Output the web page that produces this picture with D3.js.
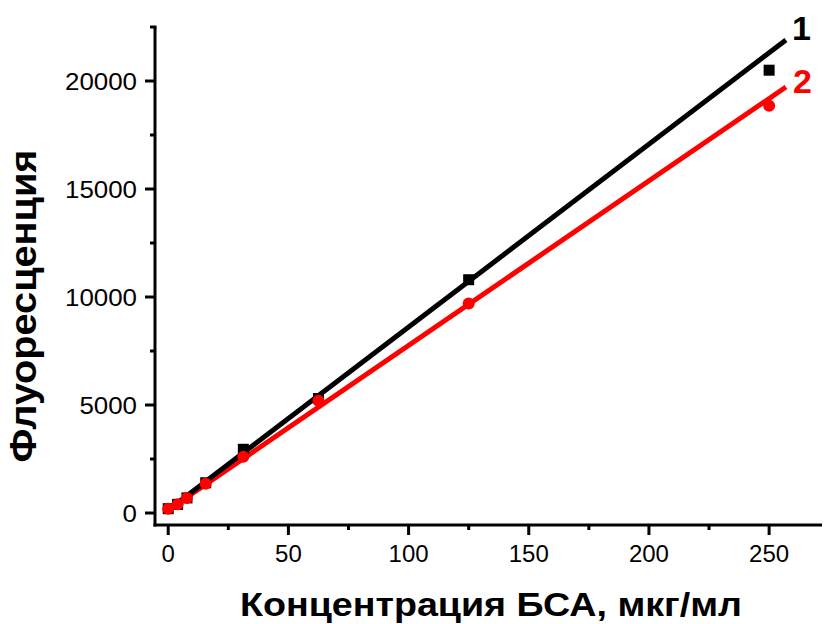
<!doctype html>
<html lang="ru">
<head>
<meta charset="utf-8">
<title>Флуоресценция БСА</title>
<style>
  body { margin: 0; background: #fff; font-family: "Liberation Sans", Arial, sans-serif; }
</style>
</head>
<body>
<script src="https://d3js.org/d3.v7.min.js"></script>
<script>

// BSA concentration, ug/ml
var conc = [0, 3.9, 7.8, 15.6, 31.25, 62.5, 125, 250];
// fluorescence, series 1 (black squares) and 2 (red circles)
var fluo1 = [200, 400, 700, 1400, 2950, 5300, 10800, 20500];
var fluo2 = [200, 400, 700, 1350, 2600, 5200, 9700, 18850];
// linear fit lines, end points
var fitX = [0, 257];
var fit1 = [140, 21900];
var fit2 = [140, 19720];

var xTicks = [0, 50, 100, 150, 200, 250];
var yTicks = [0, 5000, 10000, 15000, 20000];

var W = 824, H = 624;
var svg = d3.select("body").append("svg")
  .attr("width", W)
  .attr("height", H)
  .style("font-family", "'Liberation Sans', Arial, sans-serif");

var x = d3.scaleLinear().domain([-5.5, 272]).range([155, 822]);
var y = d3.scaleLinear().domain([-555, 22500]).range([525, 27]);

// minor ticks halfway between majors
var xMinor = d3.range(25, 275, 50);
var yMinor = d3.range(2500, 22500, 5000);

// x axis
var gx = svg.append("g").attr("transform", "translate(0," + y.range()[0] + ")");
gx.append("line")
  .attr("x1", x.range()[0] - 1.5).attr("x2", x.range()[1])
  .attr("stroke", "#000").attr("stroke-width", 3);
gx.selectAll(".xmaj").data(xTicks).join("line")
  .attr("x1", function (d) { return x(d); })
  .attr("x2", function (d) { return x(d); })
  .attr("y1", 0).attr("y2", 10)
  .attr("stroke", "#000").attr("stroke-width", 3);
gx.selectAll(".xmin").data(xMinor).join("line")
  .attr("x1", function (d) { return x(d); })
  .attr("x2", function (d) { return x(d); })
  .attr("y1", 0).attr("y2", 5)
  .attr("stroke", "#000").attr("stroke-width", 3);
gx.selectAll("text").data(xTicks).join("text")
  .attr("x", function (d) { return x(d); })
  .attr("y", 37)
  .attr("text-anchor", "middle")
  .attr("font-size", 24)
  .text(function (d) { return d; });

// y axis
var gy = svg.append("g").attr("transform", "translate(" + x.range()[0] + ",0)");
gy.append("line")
  .attr("y1", y.range()[1]).attr("y2", y.range()[0] + 1.5)
  .attr("stroke", "#000").attr("stroke-width", 3);
gy.append("line")
  .attr("x1", -5).attr("x2", 1.5)
  .attr("y1", y.range()[1]).attr("y2", y.range()[1])
  .attr("stroke", "#000").attr("stroke-width", 3);
gy.selectAll(".ymaj").data(yTicks).join("line")
  .attr("y1", function (d) { return y(d); })
  .attr("y2", function (d) { return y(d); })
  .attr("x1", 0).attr("x2", -10)
  .attr("stroke", "#000").attr("stroke-width", 3);
gy.selectAll(".ymin").data(yMinor).join("line")
  .attr("y1", function (d) { return y(d); })
  .attr("y2", function (d) { return y(d); })
  .attr("x1", 0).attr("x2", -5)
  .attr("stroke", "#000").attr("stroke-width", 3);
// y labels look a bit wider in the original
gy.selectAll("text").data(yTicks).join("text")
  .attr("x", -18)
  .attr("y", function (d) { return y(d) + 8.5; })
  .attr("text-anchor", "end")
  .attr("font-size", 24)
  .attr("textLength", function (d) { return String(d).length * 14.4; })
  .attr("lengthAdjust", "spacingAndGlyphs")
  .text(function (d) { return d; });

// axis titles
svg.append("text")
  .attr("x", 491).attr("y", 616)
  .attr("text-anchor", "middle")
  .attr("font-size", 33).attr("font-weight", "bold")
  .attr("textLength", 502)
  .attr("lengthAdjust", "spacingAndGlyphs")
  .text("Концентрация БСА, мкг/мл");

svg.append("text")
  .attr("transform", "translate(36,306) rotate(-90)")
  .attr("text-anchor", "middle")
  .attr("font-size", 37).attr("font-weight", "bold")
  .attr("textLength", 313)
  .attr("lengthAdjust", "spacingAndGlyphs")
  .text("Флуоресценция");

// fit lines
var line = d3.line()
  .x(function (d) { return x(d[0]); })
  .y(function (d) { return y(d[1]); });

svg.append("path")
  .datum(d3.zip(fitX, fit2))
  .attr("d", line)
  .attr("fill", "none").attr("stroke", "#ff0000").attr("stroke-width", 5);

svg.append("path")
  .datum(d3.zip(fitX, fit1))
  .attr("d", line)
  .attr("fill", "none").attr("stroke", "#000").attr("stroke-width", 5);

// markers
svg.selectAll(".sq").data(d3.zip(conc, fluo1)).join("rect")
  .attr("class", "sq")
  .attr("x", function (d) { return x(d[0]) - 5.5; })
  .attr("y", function (d) { return y(d[1]) - 5.5; })
  .attr("width", 11).attr("height", 11)
  .attr("fill", "#000");

svg.selectAll(".ci").data(d3.zip(conc, fluo2)).join("circle")
  .attr("class", "ci")
  .attr("cx", function (d) { return x(d[0]); })
  .attr("cy", function (d) { return y(d[1]); })
  .attr("r", 6)
  .attr("fill", "#ff0000");

// series labels
svg.append("text")
  .attr("x", 792).attr("y", 40)
  .attr("font-size", 34).attr("font-weight", "bold")
  .attr("fill", "#000")
  .text("1");

svg.append("text")
  .attr("x", 793).attr("y", 93)
  .attr("font-size", 34).attr("font-weight", "bold")
  .attr("fill", "#ff0000")
  .text("2");

</script>
</body>
</html>
